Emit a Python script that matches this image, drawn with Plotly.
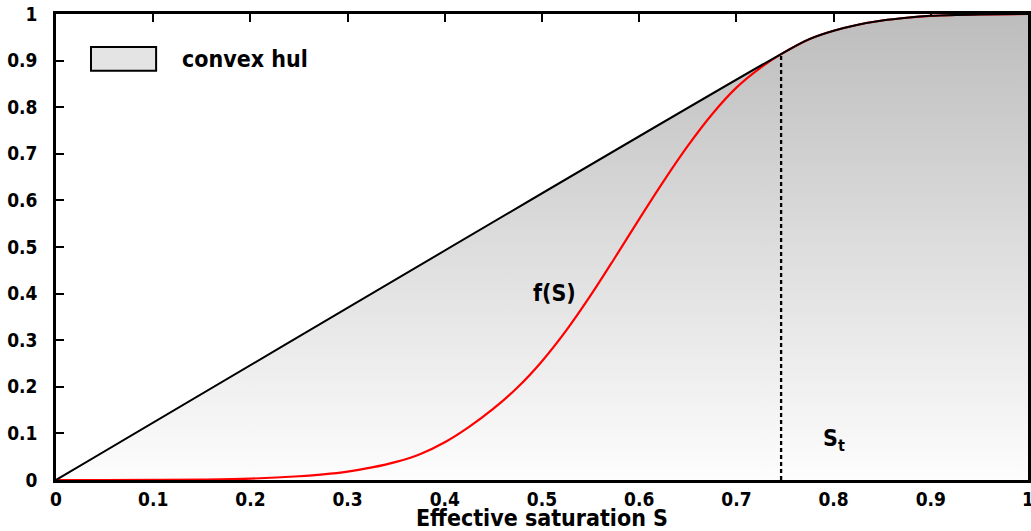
import plotly.graph_objects as go

# Effective saturation and fractional flow f(S)
S_values = [0, 0.05, 0.1, 0.15, 0.2, 0.25, 0.275, 0.3, 0.325, 0.35, 0.375, 0.4,
            0.425, 0.45, 0.475, 0.5, 0.525, 0.55, 0.575, 0.6, 0.625, 0.65, 0.675,
            0.7, 0.725, 0.746, 0.775, 0.8, 0.825, 0.85, 0.875, 0.9, 0.95, 1.0]
F_values = [0, 0, 0.0003, 0.001, 0.003, 0.008, 0.012, 0.018, 0.027, 0.039, 0.056,
            0.081, 0.114, 0.153, 0.199, 0.255, 0.321, 0.396, 0.477, 0.56, 0.641,
            0.717, 0.785, 0.842, 0.885, 0.914, 0.946, 0.964, 0.977, 0.986, 0.992,
            0.996, 0.999, 1.0]

x_ticks = [0, 0.1, 0.2, 0.3, 0.4, 0.5, 0.6, 0.7, 0.8, 0.9, 1]
x_ticklabels = ["0", "0.1", "0.2", "0.3", "0.4", "0.5", "0.6", "0.7", "0.8", "0.9", "1"]
y_ticks = [0, 0.1, 0.2, 0.3, 0.4, 0.5, 0.6, 0.7, 0.8, 0.9, 1]
y_ticklabels = ["0", "0.1", "0.2", "0.3", "0.4", "0.5", "0.6", "0.7", "0.8", "0.9", "1"]

# tangent point (convex hull from origin)
ratios = [f / s if s > 0 else -1 for s, f in zip(S_values, F_values)]
it = ratios.index(max(ratios))
S_t, F_t = S_values[it], F_values[it]
hull_x = [0] + S_values[it:]
hull_y = [0] + F_values[it:]

FONT = "DejaVu Sans Condensed, DejaVu Sans"

fig = go.Figure()
fig.add_trace(go.Scatter(
    x=hull_x, y=hull_y, mode="lines", fill="tozeroy",
    fillgradient=dict(type="vertical", start=0, stop=1,
                      colorscale=[[0, "#fdfdfd"], [1, "#bdbdbd"]]),
    line=dict(color="rgba(0,0,0,0)", width=0, shape="spline", smoothing=1.0),
    showlegend=False, hoverinfo="skip"))
fig.add_trace(go.Scatter(
    x=S_values, y=F_values, mode="lines",
    line=dict(color="#ff0000", width=2.2, shape="spline", smoothing=1.0),
    showlegend=False))
fig.add_trace(go.Scatter(
    x=hull_x, y=hull_y, mode="lines",
    line=dict(color="black", width=2, shape="spline", smoothing=1.0),
    showlegend=False))
fig.add_trace(go.Scatter(
    x=[S_t, S_t], y=[0, F_t], mode="lines",
    line=dict(color="black", width=2.3, dash="4px,3px"),
    showlegend=False))

axis_common = dict(
    showgrid=False, zeroline=False, showline=True, linecolor="black", linewidth=2.5,
    mirror="allticks", ticks="inside", ticklen=8, tickwidth=2, tickcolor="black",
    tickfont=dict(family=FONT, size=19, color="black", weight="bold"),
    range=[0, 1], layer="below traces", automargin=False,
    ticklabeloverflow="allow")

fig.update_layout(
    width=1031, height=531,
    margin=dict(l=56, r=3, t=14, b=51),
    paper_bgcolor="white", plot_bgcolor="white",
    xaxis=dict(**axis_common, tickvals=x_ticks, ticktext=x_ticklabels,
               ticklabelstandoff=0,
               title=dict(text="Effective saturation S",
                          font=dict(family=FONT, size=23, color="black", weight="bold"),
                          standoff=4)),
    yaxis=dict(**axis_common, tickvals=y_ticks, ticktext=y_ticklabels,
               ticklabelstandoff=12),
    shapes=[dict(type="rect", xref="paper", yref="paper",
                 x0=0.036, x1=0.103, y0=0.878, y1=0.929,
                 fillcolor="#e4e4e4", line=dict(color="black", width=2))],
    annotations=[
        dict(x=0.128, y=0.903, xref="paper", yref="paper", text="convex hul",
             showarrow=False, xanchor="left", yanchor="middle",
             font=dict(family=FONT, size=23, color="black", weight="bold")),
        dict(x=0.513, y=0.402, text="f(S)", showarrow=False,
             font=dict(family=FONT, size=23, color="black", weight="bold")),
        dict(x=0.80, y=0.086, text="S<sub>t</sub>", showarrow=False,
             font=dict(family=FONT, size=23, color="black", weight="bold")),
    ],
)

fig.write_html("out.html",
               config={"displayModeBar": False},
               post_script="document.body.style.margin='0';"
                           "document.body.style.overflow='hidden';")
